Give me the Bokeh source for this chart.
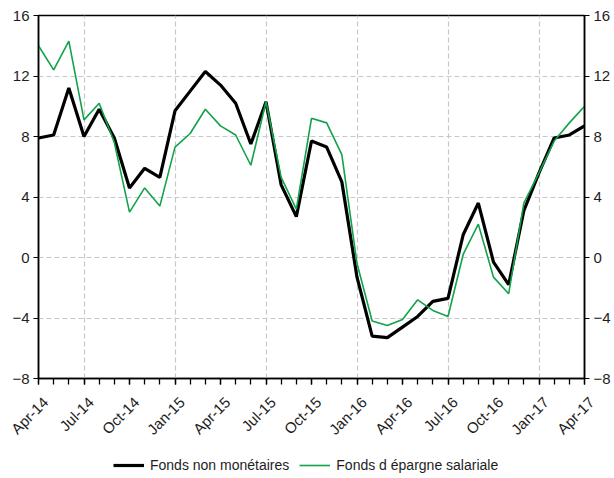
import math
from bokeh.plotting import figure
from bokeh.layouts import column
from bokeh.models import FixedTicker, LinearAxis, Legend, LegendItem, Range1d, ColumnDataSource
from bokeh.core.properties import value
from bokeh.embed import file_html
from bokeh.resources import INLINE

months = ["Apr-14", "May-14", "Jun-14", "Jul-14", "Aug-14", "Sep-14", "Oct-14", "Nov-14", "Dec-14",
          "Jan-15", "Feb-15", "Mar-15", "Apr-15", "May-15", "Jun-15", "Jul-15", "Aug-15", "Sep-15",
          "Oct-15", "Nov-15", "Dec-15", "Jan-16", "Feb-16", "Mar-16", "Apr-16", "May-16", "Jun-16",
          "Jul-16", "Aug-16", "Sep-16", "Oct-16", "Nov-16", "Dec-16", "Jan-17", "Feb-17", "Mar-17",
          "Apr-17"]
non_monetaires = [7.9, 8.1, 11.2, 8.0, 9.8, 7.9, 4.6, 5.9, 5.3,
                  9.7, 11.0, 12.3, 11.4, 10.2, 7.5, 10.3, 4.8, 2.7,
                  7.7, 7.3, 5.0, -1.3, -5.2, -5.3, -4.6, -3.9, -2.9,
                  -2.7, 1.5, 3.6, -0.3, -1.8, 3.1, 5.6, 7.9, 8.1,
                  8.7]
epargne_salariale = [14.0, 12.4, 14.3, 9.1, 10.2, 7.6, 3.0, 4.6, 3.4,
                     7.3, 8.2, 9.8, 8.7, 8.1, 6.1, 10.3, 5.3, 3.2,
                     9.2, 8.9, 6.8, -0.4, -4.2, -4.5, -4.1, -2.8, -3.5,
                     -3.9, 0.2, 2.2, -1.3, -2.4, 3.6, 5.6, 7.7, 8.9,
                     10.0]
y_ticks = [-8, -4, 0, 4, 8, 12, 16]
series_names = ["Fonds non monétaires", "Fonds d épargne salariale"]

x = list(range(len(months)))
src = ColumnDataSource(dict(x=x, a=non_monetaires, b=epargne_salariale))

FONT = "Liberation Sans"
GREEN = "#12a24b"
TXT = "#1e1e1e"

# layout constants (pixels)
LEFT, RIGHT, TOP, BOTTOM = 38, 30, 15, 8
FW, FH = 546, 363
TOTAL_W, TOTAL_H = 614, 478

p = figure(frame_width=FW, frame_height=FH, output_backend="svg", toolbar_location=None,
           x_range=Range1d(0, len(months) - 1), y_range=Range1d(-8, 16),
           min_border_left=LEFT, min_border_right=RIGHT, min_border_top=TOP,
           min_border_bottom=BOTTOM,
           background_fill_color="white", border_fill_color="white")
p.frame_align = False

p.outline_line_color = "black"
p.outline_line_width = 1.5

major = list(range(0, len(months), 3))
p.xaxis.ticker = FixedTicker(ticks=major, minor_ticks=x)
p.xaxis.major_tick_out = 6
p.xaxis.major_tick_in = 0
p.xaxis.minor_tick_out = 6
p.xaxis.minor_tick_in = 0
p.xaxis.axis_line_width = 1.5
p.xaxis.major_tick_line_width = 1.3
p.xaxis.minor_tick_line_width = 1.3
p.xaxis.major_label_text_font_size = "0px"
p.xaxis.major_label_text_alpha = 0
p.xaxis.major_label_standoff = 0

p.yaxis.ticker = FixedTicker(ticks=y_ticks)
p.yaxis.minor_tick_line_color = None
p.yaxis.major_tick_out = 5
p.yaxis.major_tick_in = 0
p.yaxis.axis_line_width = 1.5
p.yaxis.major_label_text_font = FONT
p.yaxis.major_label_text_font_size = "15px"
p.yaxis.major_label_text_color = TXT
p.yaxis.major_label_standoff = 4

ry = LinearAxis(ticker=FixedTicker(ticks=y_ticks))
ry.minor_tick_line_color = None
ry.major_tick_out = 5
ry.major_tick_in = 0
ry.axis_line_width = 1.5
ry.major_label_text_font = FONT
ry.major_label_text_font_size = "15px"
ry.major_label_text_color = TXT
ry.major_label_standoff = 4
p.add_layout(ry, "right")

p.xgrid.ticker = FixedTicker(ticks=[3, 9, 15, 21, 27, 33])
p.ygrid.ticker = FixedTicker(ticks=[-4, 0, 4, 8, 12])
for g in (p.xgrid, p.ygrid):
    g.grid_line_color = "#c8c8c8"
    g.grid_line_dash = "5 3"
    g.grid_line_width = 1.2

p.line("x", "a", source=src, line_color="black", line_width=3.2)
p.line("x", "b", source=src, line_color=GREEN, line_width=1.6)

# lower strip: rotated month labels + legend, x scale aligned with the main frame
H2 = TOTAL_H - (TOP + FH + BOTTOM)
pxu = FW / (len(months) - 1)
p2 = figure(width=TOTAL_W, height=H2, output_backend="svg", toolbar_location=None,
            x_range=Range1d(-LEFT / pxu, (len(months) - 1) + RIGHT / pxu),
            y_range=Range1d(-H2, 0),
            x_axis_location=None, y_axis_location=None, min_border=0,
            background_fill_color="white", border_fill_color="white")
p2.frame_align = False
p2.outline_line_color = None
p2.grid.visible = False

lab_src = ColumnDataSource(dict(x=major, y=[0] * len(major), t=[months[i] for i in major]))
p2.text("x", "y", text="t", source=lab_src, angle=math.pi / 4,
        text_align="right", text_baseline="middle", x_offset=7, y_offset=13,
        text_font=value(FONT), text_font_size="15px", text_color=TXT)

nan = float("nan")
l1 = p2.line(x=[nan], y=[nan], line_color="black", line_width=3.2)
l2 = p2.line(x=[nan], y=[nan], line_color=GREEN, line_width=1.6)
legend = Legend(items=[LegendItem(label=series_names[0], renderers=[l1]),
                       LegendItem(label=series_names[1], renderers=[l2])],
                orientation="horizontal", location=(113, 3))
legend.label_text_font = FONT
legend.label_text_font_size = "14px"
legend.label_text_color = TXT
legend.glyph_width = 31
legend.glyph_height = 20
legend.label_height = 20
legend.spacing = 10
legend.label_standoff = 6
legend.border_line_alpha = 0
legend.background_fill_alpha = 0
legend.margin = 0
legend.padding = 0
p2.add_layout(legend, "center")

layout = column(p, p2, spacing=0)
open("out.html", "w").write(file_html(layout, INLINE))
